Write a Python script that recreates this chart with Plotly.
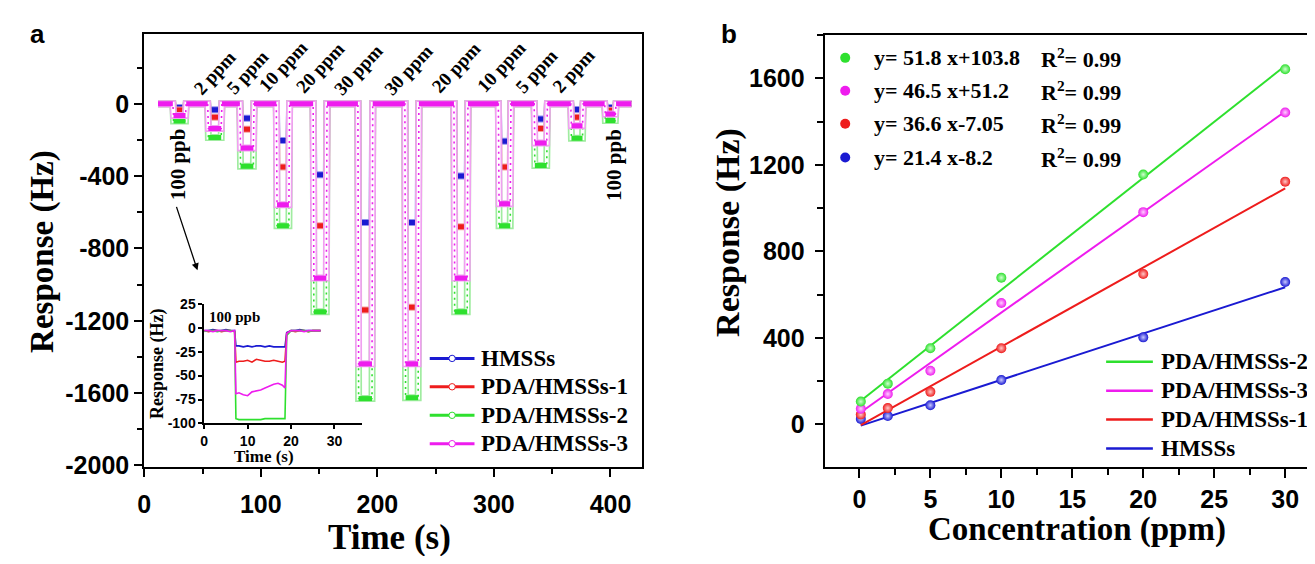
import plotly.graph_objects as go

W, H = 1315, 564

# ---------------- Panel a: time response ----------------
PULSE_LABELS = ["100 ppb", "2 ppm", "5 ppm", "10 ppm", "20 ppm", "30 ppm",
                "30 ppm", "20 ppm", "10 ppm", "5 ppm", "2 ppm", "100 ppb"]
PULSE_ON = [24.5, 54.4, 82.0, 113.3, 144.9, 183.3, 223.6, 265.7, 303.8, 334.5, 365.9, 395.0]
PULSE_OFF = [36.0, 66.6, 94.2, 124.7, 156.8, 196.0, 235.6, 277.7, 314.6, 345.9, 376.6, 404.8]
RUN_START = 11.8
RUN_END = 418.0

HMSS_A = [-20, -33, -80, -203, -393, -656, -656, -400, -207, -84, -31, -20]
PDA1_A = [-35, -75, -141, -350, -674, -1140, -1125, -680, -350, -137, -75, -36]
PDA2_A = [-95, -187, -345, -674, -1150, -1630, -1625, -1150, -674, -341, -190, -93]
PDA3_A = [-65, -137, -244, -558, -964, -1438, -1438, -964, -553, -217, -121, -57]

A_XTICKS = [0, 100, 200, 300, 400]
A_YTICKS = [0, -400, -800, -1200, -1600, -2000]
A_YTICKTEXT = ["0", "-400", "-800", "-1200", "-1600", "-2000"]

# ---------------- Inset ----------------
INSET_T = [0, 1, 2, 3, 4, 5, 6, 7, 7.3, 8, 9, 10, 11, 12, 13, 14, 15, 16, 17, 18,
           18.6, 19, 20, 21, 22, 23, 24, 25, 26, 26.8]
INSET_HMSS = [-3, -3, -2, -3, -3, -2, -3, -3,
              -19, -19, -20, -19, -20, -19, -19, -20, -19, -20, -20, -20,
              -20, -5, -3, -3, -2, -3, -3, -3, -3, -3]
INSET_PDA1 = [-3, -4, -3, -3, -4, -3, -3, -4,
              -36, -35, -35, -34, -36, -33, -34, -35, -35, -34, -35, -36,
              -35, -6, -3, -4, -3, -3, -4, -3, -3, -3]
INSET_PDA2 = [-4, -3, -3, -4, -3, -3, -3, -4,
              -95, -96, -96, -96, -96, -96, -96, -95, -95, -95, -95, -95,
              -95, -8, -3, -3, -3, -3, -4, -3, -3, -3]
INSET_PDA3 = [-3, -3, -4, -3, -3, -3, -4, -3,
              -69, -68, -70, -71, -67, -66, -65, -63, -61, -59, -58, -60,
              -63, -6, -3, -3, -3, -4, -3, -3, -3, -3]
INSET_XTICKS = [0, 10, 20, 30]
INSET_YTICKS = [25, 0, -25, -50, -75, -100]
INSET_YTICKTEXT = ["25", "0", "-25", "-50", "-75", "-100"]

# ---------------- Panel b: calibration ----------------
CONC = [0.1, 2, 5, 10, 20, 30]
B_PDA2 = [105, 188, 352, 678, 1155, 1642]
B_PDA3 = [72, 140, 248, 561, 981, 1442]
B_PDA1 = [45, 75, 150, 352, 695, 1122]
B_HMSS = [25, 38, 88, 205, 402, 658]
FIT_NAMES = ["PDA/HMSSs-2", "PDA/HMSSs-3", "PDA/HMSSs-1", "HMSSs"]
FIT_SLOPE = [51.8, 46.5, 36.6, 21.4]
FIT_INTERCEPT = [103.8, 51.2, -7.05, -8.2]
FIT_EQ = ["y= 51.8 x+103.8", "y= 46.5 x+51.2", "y= 36.6 x-7.05", "y= 21.4 x-8.2"]
FIT_R2 = ["0.99", "0.99", "0.99", "0.99"]
B_XTICKS = [0, 5, 10, 15, 20, 25, 30]
B_YTICKS = [0, 400, 800, 1200, 1600]

C_BLUE, C_RED, C_GREEN, C_MAG = "#1a1ad2", "#ee1c1c", "#2ee02e", "#ee1cee"
T_BLUE, T_RED, T_GREEN, T_MAG = "#9090f0", "#f5a0a0", "#a0eca0", "#f0a0f0"

SERIF = "Liberation Serif"
SANS = "Liberation Sans"

fig = go.Figure()


def pulse_path(levels):
    xs, ys = [RUN_START], [0]
    for on, off, lv in zip(PULSE_ON, PULSE_OFF, levels):
        xs += [on, on + 0.6, off - 0.6, off]
        ys += [0, lv, lv, 0]
    xs.append(RUN_END)
    ys.append(0)
    return xs, ys


def flat_path(levels):
    xs, ys = [], []
    prev = RUN_START
    for on, off, lv in zip(PULSE_ON, PULSE_OFF, levels):
        xs += [prev, on, None, on + 0.6, off - 0.6, None]
        ys += [0, 0, None, lv, lv, None]
        prev = off
    xs += [prev, RUN_END]
    ys += [0, 0]
    return xs, ys


series_a = [
    (HMSS_A, C_BLUE, T_BLUE),
    (PDA1_A, C_RED, T_RED),
    (PDA2_A, C_GREEN, T_GREEN),
    (PDA3_A, C_MAG, T_MAG),
]
for lv, col, tint in series_a:
    xs, ys = pulse_path(lv)
    fx, fy = flat_path(lv)
    common = dict(xaxis="x", yaxis="y", mode="lines", showlegend=False, hoverinfo="skip")
    fig.add_trace(go.Scatter(x=xs, y=ys, line=dict(color=tint, width=7), **common))
    fig.add_trace(go.Scatter(x=xs, y=ys, line=dict(color="white", width=3.6), **common))
    fig.add_trace(go.Scatter(x=xs, y=ys, line=dict(color=col, width=1.6, dash="2px,4px"), **common))
    fig.add_trace(go.Scatter(x=fx, y=fy, line=dict(color=col, width=5), **common))

# inset traces
for vals, col in [(INSET_HMSS, C_BLUE), (INSET_PDA1, C_RED), (INSET_PDA2, C_GREEN), (INSET_PDA3, C_MAG)]:
    fig.add_trace(go.Scatter(x=INSET_T, y=vals, xaxis="x3", yaxis="y3", mode="lines",
                             line=dict(color=col, width=1.6), showlegend=False, hoverinfo="skip"))

# panel b
b_series = [(B_HMSS, 3, C_BLUE, "#c8c8ff"), (B_PDA1, 2, C_RED, "#ffc8c8"),
            (B_PDA3, 1, C_MAG, "#ffd0ff"), (B_PDA2, 0, C_GREEN, "#d0ffd0")]
for vals, k, col, light in b_series:
    fx = [CONC[0], CONC[-1]]
    fy = [FIT_SLOPE[k] * x + FIT_INTERCEPT[k] for x in fx]
    fig.add_trace(go.Scatter(x=fx, y=fy, xaxis="x2", yaxis="y2", mode="lines",
                             line=dict(color=col, width=2), showlegend=False, hoverinfo="skip"))
    fig.add_trace(go.Scatter(x=CONC, y=vals, xaxis="x2", yaxis="y2", mode="markers",
                             marker=dict(size=10, color=col, line=dict(width=0),
                                         gradient=dict(type="radial", color=light)),
                             showlegend=False, hoverinfo="skip"))

tickfont_a = dict(family=SANS, size=25, color="black", weight="bold")
tickfont_b = dict(family=SANS, size=25, color="black", weight="bold")
tickfont_i = dict(family=SANS, size=14, color="black", weight="bold")

fig.update_layout(
    autosize=True,
    margin=dict(l=0, r=0, t=0, b=0, pad=0),
    paper_bgcolor="white", plot_bgcolor="rgba(0,0,0,0)",
    showlegend=False,
    xaxis=dict(domain=[138 / W, 638 / W], range=[0, 426.7], anchor="y",
               showline=True, linewidth=2, linecolor="black", mirror=True,
               showgrid=False, zeroline=False,
               tickmode="array", tickvals=A_XTICKS, ticks="outside", ticklen=8, tickwidth=2,
               tickcolor="black", tickfont=tickfont_a, ticklabelstandoff=6,
               minor=dict(ticks="outside", ticklen=5, tickwidth=2, tickcolor="black",
                          dtick=50, tick0=0, showgrid=False)),
    yaxis=dict(domain=[1 - 476 / H, 1 - 27 / H], range=[-2009, 385.6], anchor="x",
               showline=True, linewidth=2, linecolor="black", mirror=True,
               showgrid=False, zeroline=False,
               tickmode="array", tickvals=A_YTICKS, ticktext=A_YTICKTEXT,
               ticks="outside", ticklen=8, tickwidth=2, tickcolor="black", tickfont=tickfont_a,
               minor=dict(ticks="outside", ticklen=5, tickwidth=2, tickcolor="black",
                          dtick=200, tick0=0, showgrid=False)),
    xaxis2=dict(domain=[822 / W, 1.0], range=[-2.45, 32.1], anchor="y2",
                showline=True, linewidth=2, linecolor="black", mirror=True,
                showgrid=False, zeroline=False,
                tickmode="array", tickvals=B_XTICKS, ticks="outside", ticklen=9, tickwidth=2,
                tickcolor="black", tickfont=tickfont_b, ticklabelstandoff=0,
                minor=dict(ticks="outside", ticklen=6, tickwidth=2, tickcolor="black",
                           dtick=2.5, tick0=0, showgrid=False)),
    yaxis2=dict(domain=[1 - 476 / H, 1 - 28 / H], range=[-198, 1800], anchor="x2",
                showline=True, linewidth=2, linecolor="black", mirror=False,
                showgrid=False, zeroline=False,
                tickmode="array", tickvals=B_YTICKS, ticks="outside", ticklen=8, tickwidth=2,
                tickcolor="black", tickfont=tickfont_b, ticklabelstandoff=5,
                minor=dict(ticks="outside", ticklen=6, tickwidth=2, tickcolor="black",
                           dtick=200, tick0=0, showgrid=False)),
    xaxis3=dict(domain=[198.3 / W, 356.7 / W], range=[0, 36.3], anchor="y3",
                showline=True, linewidth=1.5, linecolor="black", mirror=False,
                showgrid=False, zeroline=False,
                tickmode="array", tickvals=INSET_XTICKS, ticks="outside", ticklen=4, tickwidth=1.5,
                tickcolor="black", tickfont=tickfont_i, ticklabelstandoff=0),
    yaxis3=dict(domain=[1 - 430.7 / H, 1 - 306.7 / H], range=[-100, 25], anchor="x3",
                showline=True, linewidth=1.5, linecolor="black", mirror=False,
                showgrid=False, zeroline=False,
                tickmode="array", tickvals=INSET_YTICKS, ticktext=INSET_YTICKTEXT,
                ticks="outside", ticklen=4, tickwidth=1.5, tickcolor="black",
                tickfont=tickfont_i, ticklabelstandoff=0),
)


def px(x):
    return x / W


def py(y):
    return 1 - y / H


ann = []
shapes = []


def text(x, y, s, size, family=SERIF, xanchor="center", angle=0, weight="bold"):
    ann.append(dict(x=px(x), y=py(y), xref="paper", yref="paper", text=s, showarrow=False,
                    xanchor=xanchor, yanchor="middle", textangle=angle,
                    font=dict(family=family, size=size, color="black", weight=weight)))


# panel letters
text(31, 27, "a", 26, family=SANS)
text(726, 27, "b", 26, family=SANS)

# axis titles
text(35, 252, "Response (Hz)", 33, angle=-90)
text(385, 549, "Time (s)", 35)
text(725, 233, "Response (Hz)", 34, angle=-90)
text(1076, 541, "Concentration (ppm)", 33)

# pulse labels
label_pos = [(209, 67), (241.5, 67), (277.5, 61), (315, 62), (353.5, 64),
             (404, 64), (451.5, 62), (497.5, 61), (532, 66), (570, 65)]
for lab, (x, y) in zip(PULSE_LABELS[1:-1], label_pos):
    text(x, y, lab, 19, angle=-47)
text(172, 162, PULSE_LABELS[0], 21, angle=-90)
text(610, 163, PULSE_LABELS[-1], 21, angle=-90)

# arrow to inset
ann.append(dict(x=px(191.5), y=py(272), xref="paper", yref="paper", ax=-21.5, ay=-65,
                axref="pixel", ayref="pixel", showarrow=True, arrowhead=2, arrowsize=1.1,
                arrowwidth=1.3, arrowcolor="black", text=""))

# inset texts
text(201, 320, "100 ppb", 15, xanchor="left")
text(152, 369, "Response (Hz)", 18, angle=-90)
text(258, 465, "Time (s)", 17)

# panel a legend
leg_a = [("HMSSs", C_BLUE, 363.3), ("PDA/HMSSs-1", C_RED, 392.7),
         ("PDA/HMSSs-2", C_GREEN, 422.3), ("PDA/HMSSs-3", C_MAG, 451.7)]
for name, col, y in leg_a:
    shapes.append(dict(type="line", xref="paper", yref="paper", x0=px(425), x1=px(470),
                       y0=py(y), y1=py(y), line=dict(color=col, width=3)))
    shapes.append(dict(type="circle", xref="paper", yref="paper", xsizemode="pixel",
                       ysizemode="pixel", xanchor=px(447.5), yanchor=py(y),
                       x0=-3.2, x1=3.2, y0=-3.2, y1=3.2, fillcolor="white",
                       line=dict(color=col, width=1)))
    text(475, y, name, 23, xanchor="left")

# panel b equation legend
eq_cols = [C_GREEN, C_MAG, C_RED, C_BLUE]
eq_y = [51.7, 85.7, 120, 155]
for col, y, eq, r2 in zip(eq_cols, eq_y, FIT_EQ, FIT_R2):
    shapes.append(dict(type="circle", xref="paper", yref="paper", xsizemode="pixel",
                       ysizemode="pixel", xanchor=px(842.7), yanchor=py(y),
                       x0=-5, x1=5, y0=-5, y1=5, fillcolor=col, line=dict(color=col, width=0)))
    text(870, y, eq, 22, xanchor="left")
    text(1038, y, "R<sup>2</sup>= " + r2, 22, xanchor="left")

# panel b line legend
leg_b_cols = [C_GREEN, C_MAG, C_RED, C_BLUE]
leg_b_y = [366.7, 396.7, 426.7, 456.7]
for name, col, y in zip(FIT_NAMES, leg_b_cols, leg_b_y):
    shapes.append(dict(type="line", xref="paper", yref="paper", x0=px(1105), x1=px(1152),
                       y0=py(y), y1=py(y), line=dict(color=col, width=2.5)))
    text(1158, y, name, 23, xanchor="left")

fig.update_layout(annotations=ann, shapes=shapes)

# negative margin cancels the browser's default 8 px body margin so the figure fills the window
fig.write_html("out.html", config={"displayModeBar": False},
               default_width="1315px", default_height="564px; margin:-8px")
